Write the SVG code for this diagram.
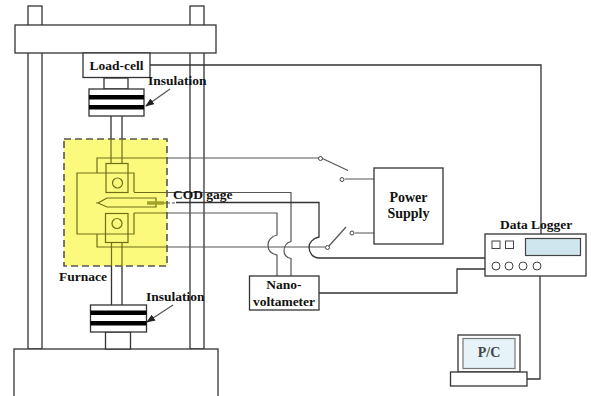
<svg xmlns="http://www.w3.org/2000/svg" width="591" height="396" viewBox="0 0 591 396">
<style>
.l{fill:none;stroke:#333;stroke-width:1.3}
.b{fill:#fff;stroke:#333;stroke-width:1.3}
.o{fill:none;stroke:#6e6e18;stroke-width:1.2}
.g{fill:none;stroke:#555;stroke-width:1.2}
.k{fill:#000;stroke:none}
.n{fill:#fff;stroke:#444;stroke-width:1}
text{font-family:"Liberation Serif","Times New Roman",serif;font-weight:bold;font-size:13.5px;fill:#111}
.m{text-anchor:middle}
</style>
<defs>
<marker id="a" markerWidth="9" markerHeight="7" refX="8" refY="3.5" orient="auto" markerUnits="userSpaceOnUse"><path d="M0 0L9 3.5L0 7Z" fill="#222"/></marker>
</defs>
<rect width="591" height="396" fill="#fff"/>
<g id="frame">
<rect class="b" x="28" y="6" width="14" height="343"/>
<rect class="b" x="190" y="6" width="14" height="343"/>
<rect class="b" x="15" y="25" width="201" height="28"/>
<rect class="b" x="14" y="349" width="204" height="50"/>
</g>
<g id="rods">
<path class="l" d="M111 116V139M122 116V139M111.500 266V305M122 266V305"/>
<rect class="b" x="104" y="78" width="24" height="11"/>
<rect class="b" x="105.500" y="332" width="25" height="17"/>
</g>
<g id="load-cell">
<rect class="b" x="83" y="53" width="67" height="24.500"/>
<text x="116.500" y="69.500" class="m">Load-cell</text>
</g>
<g id="insulation-top">
<rect class="b" x="89" y="89" width="55" height="27"/>
<rect class="k" x="89" y="95" width="55" height="4.500"/>
<rect class="k" x="89" y="105" width="55" height="4.500"/>
<text x="148" y="85">Insulation</text>
</g>
<g id="insulation-bottom">
<rect class="b" x="90.500" y="305" width="56" height="27"/>
<rect class="k" x="90.500" y="310.500" width="56" height="4.500"/>
<rect class="k" x="90.500" y="321" width="56" height="4.500"/>
<text x="146" y="301">Insulation</text>
</g>
<g id="furnace">
<rect x="64" y="139" width="103" height="127" fill="#fbfa7c" stroke="#555" stroke-width="1.6" stroke-dasharray="7 4"/>
<path class="o" d="M111 139V163M122 139V163M111.500 242V266M122 242V266"/>
<rect class="o" x="106" y="163.500" width="22" height="29"/>
<circle class="o" cx="117.500" cy="183" r="5"/>
<rect class="o" x="105.500" y="213.500" width="22.500" height="29"/>
<circle class="o" cx="117" cy="223.500" r="5"/>
<path class="o" d="M134 192V173H77V234H134V213M134 198H107L98 203L107 207H134M98 203H96"/>
<path class="o" d="M97 173V158H167M97 234V247H167M134 192.500H167M134 213H167M134 198H156V207H134"/>
<path fill="none" stroke="#a3a32a" stroke-width="3.500" d="M147 203H164"/>
<path fill="none" stroke="#6e6e18" stroke-width="1" stroke-dasharray="3 2" d="M164 203H167"/>
<text x="59" y="281">Furnace</text>
</g>
<g id="connectors">
<path class="g" d="M167 158H319.500M348 170.500L322.500 158.500"/>
<path class="g" d="M345 179H374M355 233H374"/>
<path class="g" d="M167 247H325M346 227L329 246"/>
<path class="g" d="M167 192.500H291V241.500C285 243 284 248 284 251C284 254 286 258 291 258.500V276"/>
<path class="g" d="M167 213H277V235C271 236 268 241 268 245C268 250 271 254 277 255V276"/>
<path class="g" stroke-dasharray="3 2" d="M167 203H176"/>
<path class="l" d="M176 202.500H319V237C313 238 309 243 309 247C309 253 313 258 319 258H485"/>
<path class="l" d="M319 293H457V269H485"/>
<path class="l" d="M150 65H541V234"/>
<path class="l" d="M540 276V379H527"/>
<path class="g" marker-end="url(#a)" d="M170 89L146 106"/>
<path class="g" marker-end="url(#a)" d="M173 305L147 322"/>
<circle class="n" cx="320.500" cy="158.500" r="2"/>
<circle class="n" cx="342" cy="179.500" r="2"/>
<circle class="n" cx="327.500" cy="247.500" r="2"/>
<circle class="n" cx="352" cy="233" r="2"/>
</g>
<g id="cod-gage"><text x="173" y="199">COD gage</text></g>
<g id="power-supply">
<rect class="b" x="374" y="168" width="69" height="76"/>
<text x="408.500" y="202" class="m" style="font-size:14px">Power</text>
<text x="408.500" y="218" class="m" style="font-size:14px">Supply</text>
</g>
<g id="nano-voltameter">
<rect class="b" x="249.500" y="276" width="69.500" height="34"/>
<text x="284" y="289" class="m">Nano-</text>
<text x="284" y="305.500" class="m">voltameter</text>
</g>
<g id="data-logger">
<text x="500" y="229">Data Logger</text>
<rect class="b" x="485" y="234" width="101" height="42"/>
<rect x="525.500" y="238.500" width="55" height="17" fill="#cfe6ee" stroke="#444" stroke-width="1.200"/>
<rect class="n" x="492" y="241" width="8" height="7.500"/>
<rect class="n" x="505.500" y="241" width="8" height="7.500"/>
<circle class="n" cx="496" cy="266" r="4"/>
<circle class="n" cx="509" cy="266" r="4"/>
<circle class="n" cx="523" cy="266" r="4"/>
<circle class="n" cx="537" cy="266" r="4"/>
</g>
<g id="pc">
<rect class="b" x="458" y="335" width="62" height="37"/>
<rect x="463" y="338.500" width="52" height="30" fill="#e6f3f8" stroke="#777" stroke-width="1.200"/>
<rect class="b" x="450.500" y="372" width="76.500" height="14"/>
<text x="489" y="357" class="m" style="font-size:14px;fill:#444">P/C</text>
</g>
</svg>
